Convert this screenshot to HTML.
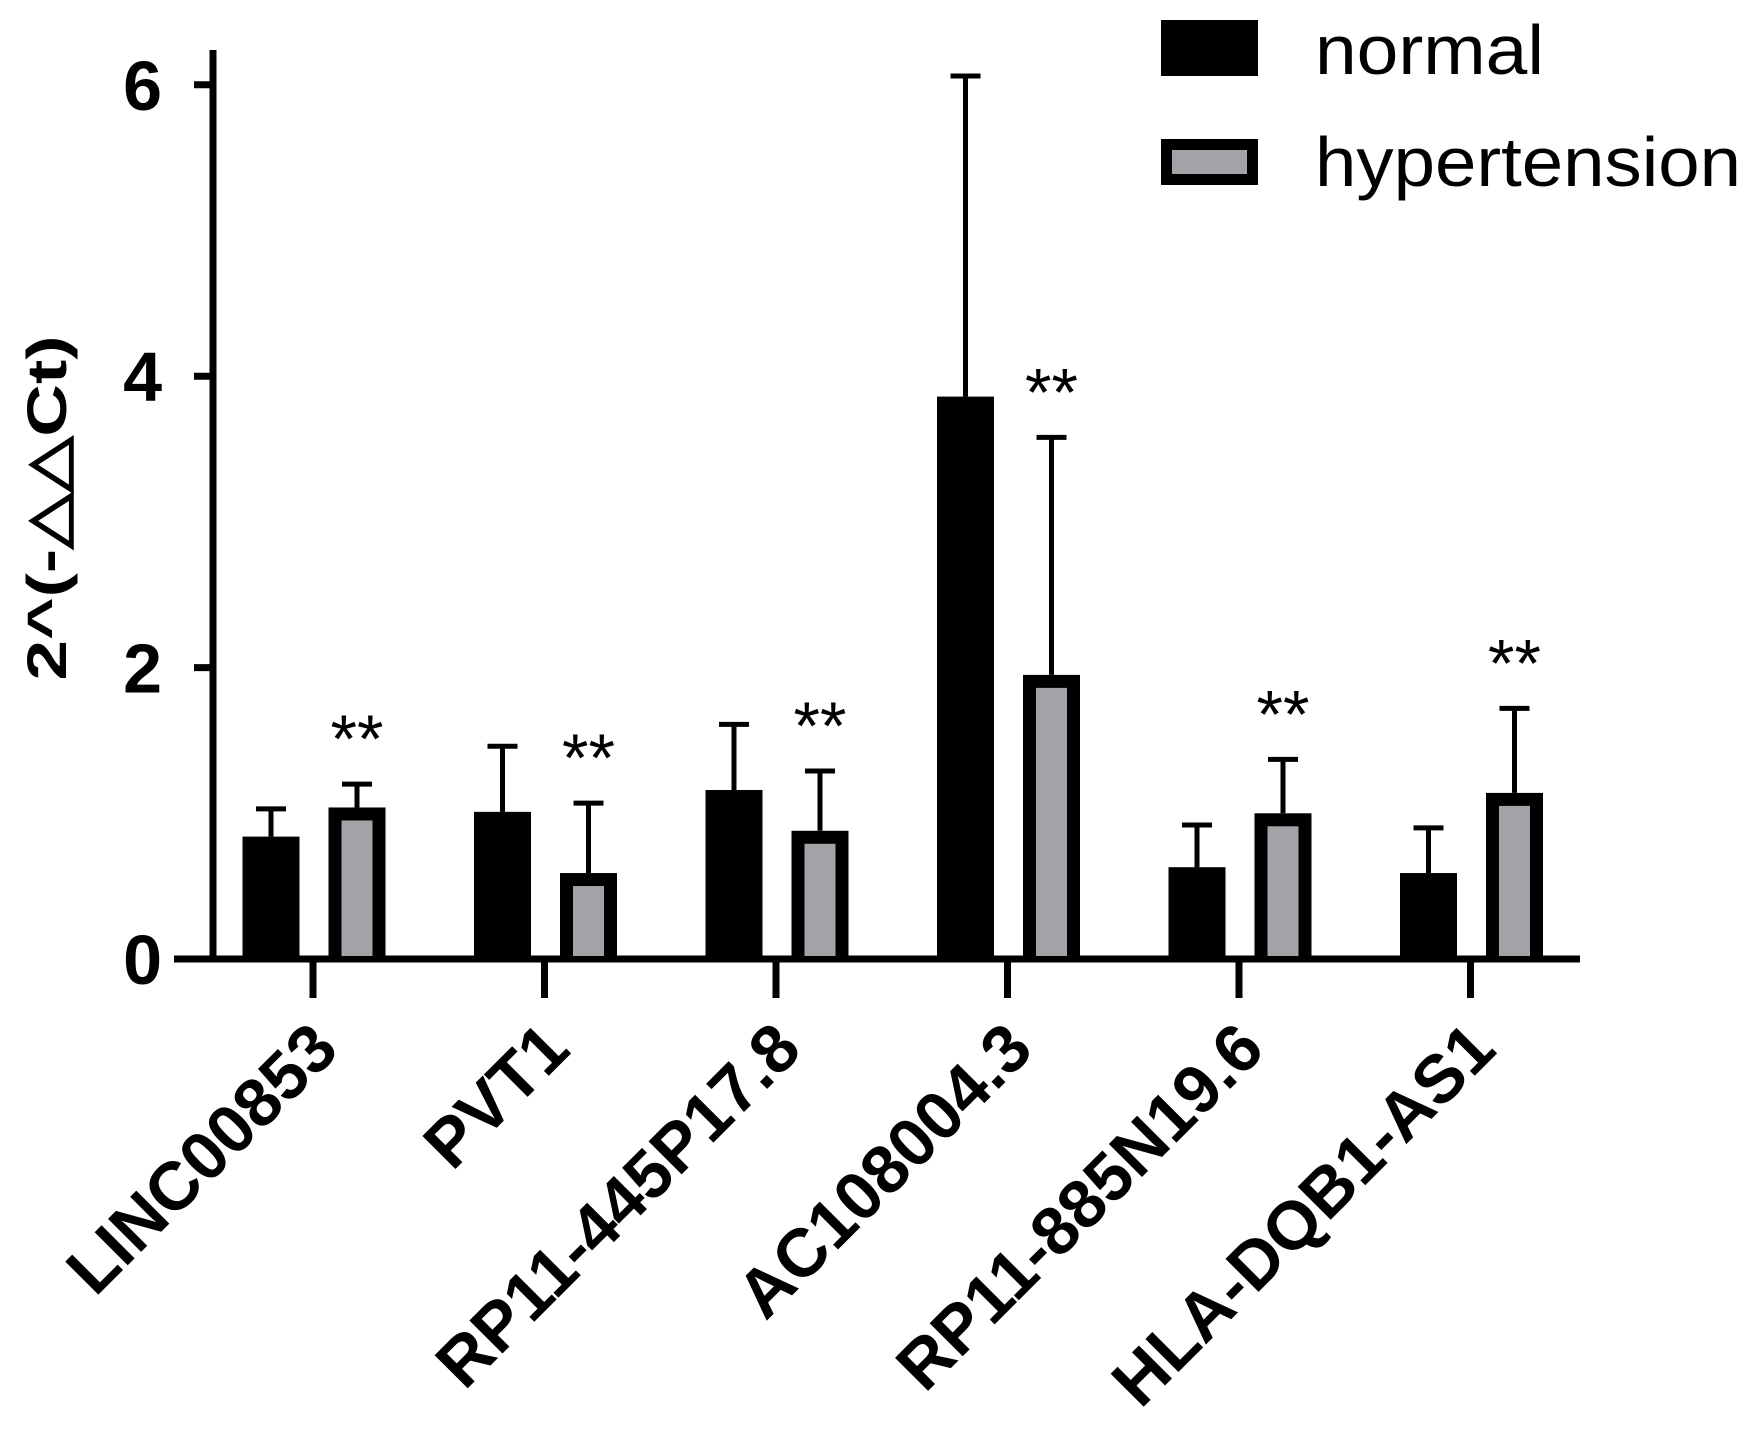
<!DOCTYPE html>
<html><head><meta charset="utf-8"><style>
html,body{margin:0;padding:0;background:#fff;}
svg{display:block;font-family:"Liberation Sans",Arial,sans-serif;}
</style></head><body>
<svg id="chart" width="1750" height="1430" viewBox="0 0 1750 1430"></svg>
<script>
const categories = ["LINC00853","PVT1","RP11-445P17.8","AC108004.3","RP11-885N19.6","HLA-DQB1-AS1"];
const normalMeans = [0.84, 1.01, 1.16, 3.86, 0.63, 0.59];
const normalErr = [1.03, 1.46, 1.61, 6.06, 0.92, 0.90];
const hyperMeans = [1.04, 0.59, 0.88, 1.95, 1.00, 1.14];
const hyperErr = [1.20, 1.07, 1.29, 3.58, 1.37, 1.72];
const yTicks = [0, 2, 4, 6];
const yTickLabels = ["0","2","4","6"];

const NS = "http://www.w3.org/2000/svg";
const svg = document.getElementById('chart');
const y0 = 959, pxPerUnit = 145.7;
const yScale = v => y0 - v * pxPerUnit;
const groupStart = 313, groupStep = 231.5;
const xScale = i => groupStart + i * groupStep;
const barW = 57;

function mk(tag, attrs, parent) {
  const e = document.createElementNS(NS, tag);
  for (const k in attrs) e.setAttribute(k, attrs[k]);
  (parent || svg).appendChild(e);
  return e;
}

let ax = mk('line', {x1:213, y1:50, x2:213, y2:y0+3, stroke:'#000', 'stroke-width':7});


ax = mk('line', {x1:174, y1:y0, x2:1580, y2:y0, stroke:'#000', 'stroke-width':7});



yTicks.forEach((v, i) => {
  const t = mk('line', {x1:194, y1:yScale(v), x2:213, y2:yScale(v), stroke:'#000', 'stroke-width':7});
  
  
  const l = mk('text', {x:162, y:yScale(v)+25, 'text-anchor':'end', 'font-size':70, 'font-weight':'bold'});
  l.textContent = yTickLabels[i];
  
  
});

const yt = mk('text', {x:0, y:0, transform:'translate(66,508) rotate(-90)', 'text-anchor':'middle', 'font-size':56, 'font-weight':'bold', textLength:345, lengthAdjust:'spacingAndGlyphs'});
yt.textContent = "2^(-△△Ct)";



categories.forEach((c, i) => {
  const cx = xScale(i);
  const gt = mk('line', {x1:cx, y1:y0, x2:cx, y2:998, stroke:'#000', 'stroke-width':7});
  
  

  const nx = cx - 42 - barW/2;
  const ne = mk('line', {x1:cx-42, y1:yScale(normalErr[i]), x2:cx-42, y2:yScale(normalMeans[i]), stroke:'#000', 'stroke-width':5});
  
  
  const nc = mk('line', {x1:cx-42-15, y1:yScale(normalErr[i]), x2:cx-42+15, y2:yScale(normalErr[i]), stroke:'#000', 'stroke-width':5});
  
  
  const nb = mk('rect', {x:nx, y:yScale(normalMeans[i]), width:barW, height:y0-yScale(normalMeans[i]), fill:'#000'});
  
  

  const hcx = cx + 44;
  const he = mk('line', {x1:hcx, y1:yScale(hyperErr[i]), x2:hcx, y2:yScale(hyperMeans[i]), stroke:'#000', 'stroke-width':5});
  
  
  const hc = mk('line', {x1:hcx-15, y1:yScale(hyperErr[i]), x2:hcx+15, y2:yScale(hyperErr[i]), stroke:'#000', 'stroke-width':5});
  
  
  const top = yScale(hyperMeans[i]);
  const hb = mk('rect', {x:hcx-barW/2, y:top, width:barW, height:y0-top, fill:'#000'});
  
  
  const hi = mk('rect', {x:hcx-barW/2+13, y:top+13, width:barW-26, height:Math.max(0,y0-top-16), fill:'#a3a3a7'});
  
  

  const st = mk('text', {x:hcx, y:yScale(hyperErr[i])-22, 'text-anchor':'middle', 'font-size':68});
  st.textContent = "**";
  
  

  const lb = mk('text', {x:0, y:0, transform:`translate(${cx+28},${1052}) rotate(-45)`, 'text-anchor':'end', 'font-size':68, 'font-weight':'bold'});
  lb.textContent = c;
  
  
});

const lg = mk('g', {});


let r = mk('rect', {x:1161, y:20, width:97, height:56, fill:'#000'}, lg);


let t = mk('text', {x:1315, y:74, 'font-size':70, textLength:229, lengthAdjust:'spacingAndGlyphs'}, lg);
t.textContent = "normal";


r = mk('rect', {x:1161, y:139, width:97, height:46, fill:'#000'}, lg);


r = mk('rect', {x:1172, y:150, width:75, height:24, fill:'#a3a3a7'}, lg);


t = mk('text', {x:1315, y:186, 'font-size':70, textLength:426, lengthAdjust:'spacingAndGlyphs'}, lg);
t.textContent = "hypertension";


</script>
</body></html>
